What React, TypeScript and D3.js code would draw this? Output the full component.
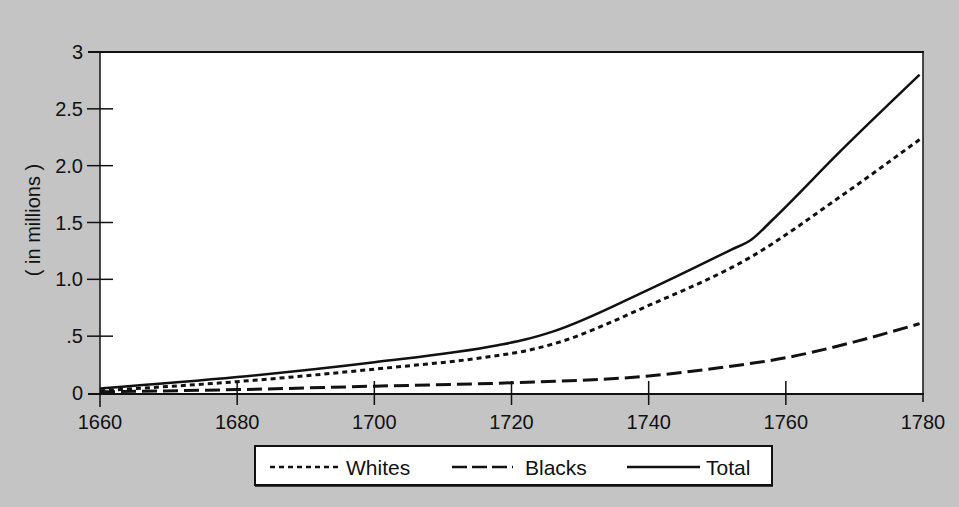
import React from "react";
import * as d3 from "d3";

const yearTicks = [1660, 1680, 1700, 1720, 1740, 1760, 1780];
const valueTicks = [0, 0.5, 1.0, 1.5, 2.0, 2.5, 3];
const valueTickLabels = ["0", ".5", "1.0", "1.5", "2.0", "2.5", "3"];

const totalYears = [1660, 1680, 1700, 1718, 1722, 1726, 1740, 1752, 1755, 1758, 1768, 1779.5];
const totalValues = [0.04, 0.14, 0.27, 0.42, 0.47, 0.54, 0.91, 1.26, 1.35, 1.52, 2.13, 2.8];

const whitesYears = [1660, 1680, 1700, 1718, 1722, 1726, 1740, 1755, 1768, 1779.5];
const whitesValues = [0.02, 0.1, 0.21, 0.33, 0.37, 0.43, 0.77, 1.2, 1.73, 2.23];

const blacksYears = [1660, 1680, 1700, 1720, 1740, 1750, 1760, 1770, 1779.5];
const blacksValues = [0.01, 0.03, 0.06, 0.09, 0.15, 0.22, 0.31, 0.45, 0.61];

const legendLabels = ["Whites", "Blacks", "Total"];

export default function App() {
  const W = 959, H = 507;
  const left = 100, right = 923, top = 52, bottom = 393;
  const x = d3.scaleLinear().domain([1660, 1780]).range([left, right]);
  const y = d3.scaleLinear().domain([0, 3]).range([bottom, top]);
  const line = d3.line<[number, number]>().x(d => x(d[0])).y(d => y(d[1])).curve(d3.curveMonotoneX);
  const zip = (a: number[], b: number[]) => a.map((v, i) => [v, b[i]] as [number, number]);
  const font = "Arial, 'Liberation Sans', Helvetica, sans-serif";

  return (
    <svg width={W} height={H} style={{ position: "absolute", left: 0, top: 0, display: "block" }} fontFamily={font}>
      <rect x={0} y={0} width={W} height={H} fill="#c4c4c4" />
      <rect x={left} y={top} width={right - left} height={bottom - top} fill="#ffffff" />
      {/* frame */}
      <line x1={88} x2={right + 1} y1={top} y2={top} stroke="#111" strokeWidth={2} />
      <line x1={left} x2={left} y1={top} y2={407} stroke="#111" strokeWidth={1.5} />
      <line x1={right} x2={right} y1={top - 1} y2={402} stroke="#111" strokeWidth={1.5} />
      <line x1={88} x2={right + 1} y1={bottom + 1} y2={bottom + 1} stroke="#111" strokeWidth={2} />
      {/* y ticks */}
      {valueTicks.map((v, i) => (
        <g key={"yt" + i}>
          {v > 0 && v < 3 && <line x1={87} x2={113} y1={y(v)} y2={y(v)} stroke="#111" strokeWidth={1.5} />}
          <text x={83} y={y(v)} textAnchor="end" dominantBaseline="central" fontSize={20} fill="#111">{valueTickLabels[i]}</text>
        </g>
      ))}
      {/* x ticks */}
      {yearTicks.map((t, i) => (
        <g key={"xt" + i}>
          {t > 1660 && t < 1780 && <line x1={x(t)} x2={x(t)} y1={381} y2={405} stroke="#111" strokeWidth={1.5} />}
          <text x={x(t)} y={429} textAnchor="middle" fontSize={20} fill="#111">{t}</text>
        </g>
      ))}
      <text transform="translate(33,220) rotate(-90)" textAnchor="middle" dominantBaseline="central" fontSize={20} fill="#111">( in millions )</text>
      {/* series */}
      <path d={line(zip(blacksYears, blacksValues)) || ""} fill="none" stroke="#111" strokeWidth={3} strokeDasharray="15 6" />
      <path d={line(zip(whitesYears, whitesValues)) || ""} fill="none" stroke="#111" strokeWidth={3} strokeDasharray="5 4" />
      <path d={line(zip(totalYears, totalValues)) || ""} fill="none" stroke="#111" strokeWidth={2.5} />
      {/* legend */}
      <rect x={255} y={446} width={517} height={39} fill="#fff" stroke="#111" strokeWidth={2} />
      <line x1={255} x2={773} y1={485.5} y2={485.5} stroke="#111" strokeWidth={2.5} />
      <line x1={270} x2={340} y1={467} y2={467} stroke="#111" strokeWidth={2.5} strokeDasharray="5 4" />
      <text x={346} y={467} dominantBaseline="central" fontSize={21} fill="#111">{legendLabels[0]}</text>
      <line x1={452} x2={513} y1={467} y2={467} stroke="#111" strokeWidth={2.5} strokeDasharray="15 5" />
      <text x={525} y={467} dominantBaseline="central" fontSize={21} fill="#111">{legendLabels[1]}</text>
      <line x1={627} x2={700} y1={467} y2={467} stroke="#111" strokeWidth={2.5} />
      <text x={706} y={467} dominantBaseline="central" fontSize={21} fill="#111">{legendLabels[2]}</text>
    </svg>
  );
}
